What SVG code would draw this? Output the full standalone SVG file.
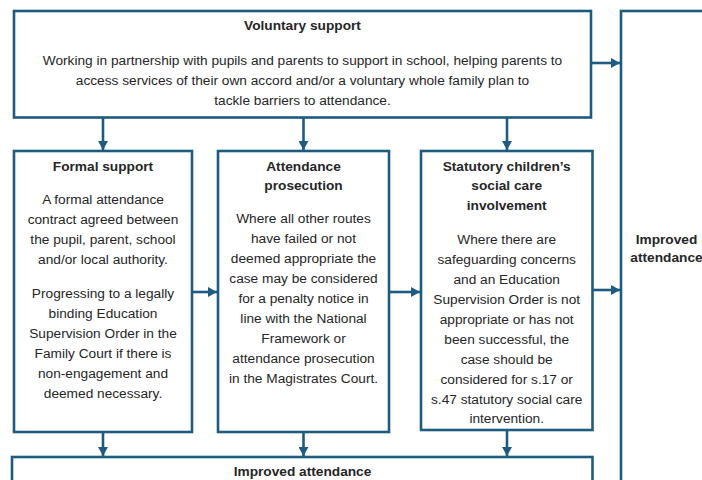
<svg xmlns="http://www.w3.org/2000/svg" width="702" height="480" viewBox="0 0 702 480">
<defs>
<style>
.box{fill:#fff;stroke:#1d5b80;stroke-width:2.6}
.con{stroke:#1d5b80;stroke-width:2.6;fill:none}
text{font-family:"Liberation Sans",Arial,sans-serif;font-size:13.7px;fill:#262626;text-anchor:middle}
.t{font-weight:bold}
</style>
<marker id="ah" markerUnits="userSpaceOnUse" markerWidth="10" markerHeight="10" refX="9" refY="5" orient="auto">
<path d="M0,0 L9,5 L0,10 z" fill="#1d5b80"/>
</marker>
</defs>
<rect width="702" height="480" fill="#fff"/>
<g id="connectors">
<line class="con" x1="103" y1="118" x2="103" y2="150" marker-end="url(#ah)"/>
<line class="con" x1="303.5" y1="118" x2="303.5" y2="150" marker-end="url(#ah)"/>
<line class="con" x1="507" y1="118" x2="507" y2="150" marker-end="url(#ah)"/>
<line class="con" x1="591" y1="63" x2="620" y2="63" marker-end="url(#ah)"/>
<line class="con" x1="192" y1="292" x2="217" y2="292" marker-end="url(#ah)"/>
<line class="con" x1="389" y1="292" x2="420" y2="292" marker-end="url(#ah)"/>
<line class="con" x1="592.5" y1="290" x2="620" y2="290" marker-end="url(#ah)"/>
<line class="con" x1="103" y1="432" x2="103" y2="456" marker-end="url(#ah)"/>
<line class="con" x1="303.5" y1="432" x2="303.5" y2="456" marker-end="url(#ah)"/>
<line class="con" x1="507" y1="430" x2="507" y2="456" marker-end="url(#ah)"/>
</g>
<g id="voluntary">
<rect class="box" x="14" y="11" width="577" height="106.5"/>
<text class="t" x="302.5" y="30">Voluntary support</text>
<text x="302.5" y="64.5">Working in partnership with pupils and parents to support in school, helping parents to</text>
<text x="302.5" y="84.5">access services of their own accord and/or a voluntary whole family plan to</text>
<text x="302.5" y="104.5">tackle barriers to attendance.</text>
</g>
<g id="formal">
<rect class="box" x="14" y="151" width="178" height="281"/>
<text class="t" x="103" y="170.5">Formal support</text>
<text x="103" y="204">A formal attendance</text>
<text x="103" y="224">contract agreed between</text>
<text x="103" y="244">the pupil, parent, school</text>
<text x="103" y="264">and/or local authority.</text>
<text x="103" y="298">Progressing to a legally</text>
<text x="103" y="318">binding Education</text>
<text x="103" y="338">Supervision Order in the</text>
<text x="103" y="358">Family Court if there is</text>
<text x="103" y="378">non-engagement and</text>
<text x="103" y="398">deemed necessary.</text>
</g>
<g id="prosecution">
<rect class="box" x="218" y="151" width="171" height="281"/>
<text class="t" x="303.5" y="170.5">Attendance</text>
<text class="t" x="303.5" y="190">prosecution</text>
<text x="303.5" y="223">Where all other routes</text>
<text x="303.5" y="243">have failed or not</text>
<text x="303.5" y="263">deemed appropriate the</text>
<text x="303.5" y="283">case may be considered</text>
<text x="303.5" y="303">for a penalty notice in</text>
<text x="303.5" y="323">line with the National</text>
<text x="303.5" y="343">Framework or</text>
<text x="303.5" y="363">attendance prosecution</text>
<text x="303.5" y="383">in the Magistrates Court.</text>
</g>
<g id="statutory">
<rect class="box" x="421" y="151" width="171.5" height="279"/>
<text class="t" x="506.7" y="170.5">Statutory children’s</text>
<text class="t" x="506.7" y="190">social care</text>
<text class="t" x="506.7" y="209.5">involvement</text>
<text x="506.7" y="244">Where there are</text>
<text x="506.7" y="264">safeguarding concerns</text>
<text x="506.7" y="284">and an Education</text>
<text x="506.7" y="304">Supervision Order is not</text>
<text x="506.7" y="324">appropriate or has not</text>
<text x="506.7" y="344">been successful, the</text>
<text x="506.7" y="364">case should be</text>
<text x="506.7" y="384">considered for s.17 or</text>
<text x="506.7" y="404">s.47 statutory social care</text>
<text x="506.7" y="423">intervention.</text>
</g>
<g id="improved-right">
<rect class="box" x="621" y="11" width="100" height="480"/>
<text class="t" x="666.5" y="244">Improved</text>
<text class="t" x="666.5" y="261.5">attendance</text>
</g>
<g id="improved-bottom">
<rect class="box" x="12" y="457" width="580.5" height="40"/>
<text class="t" x="302.5" y="475.5">Improved attendance</text>
</g>
</svg>
